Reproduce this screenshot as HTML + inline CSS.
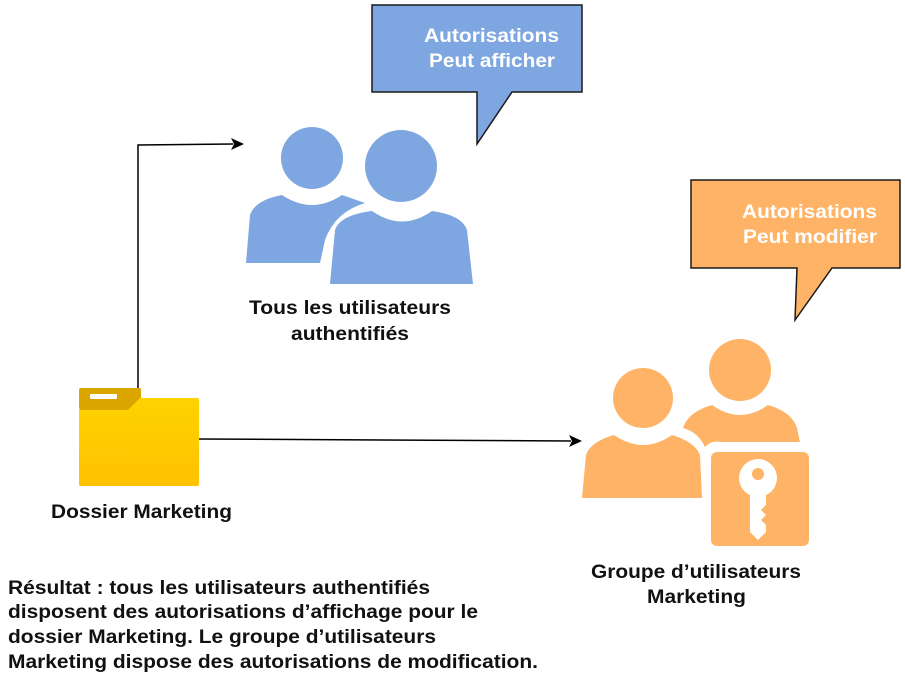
<!DOCTYPE html>
<html><head><style>
body{margin:0;background:#fff;}
svg text{font-family:"Liberation Sans",Arial,sans-serif;font-weight:bold;}
</style></head><body>
<svg width="905" height="683" viewBox="0 0 905 683" xmlns="http://www.w3.org/2000/svg">
<defs>
<linearGradient id="fg" x1="0" y1="0" x2="0" y2="1"><stop offset="0" stop-color="#FFD200"/><stop offset="1" stop-color="#FFC200"/></linearGradient>
</defs>
<polyline points="138,393 138,145 233,144" fill="none" stroke="#000" stroke-width="1.5"/>
<polygon points="244,144 231,138 234,144 231,150" fill="#000"/>
<line x1="199" y1="439" x2="571" y2="441" stroke="#000" stroke-width="1.5"/>
<polygon points="582,441 569,435 572,441 569,447" fill="#000"/>
<path d="M372,5 H582 V92 H512 L477,144 L477,92 H372 Z" fill="#7EA6E0" stroke="#1a1a1a" stroke-width="1.5"/>
<text x="424" y="42" font-size="19" fill="#fff" textLength="135" lengthAdjust="spacingAndGlyphs">Autorisations</text>
<text x="429" y="67" font-size="19" fill="#fff" textLength="126" lengthAdjust="spacingAndGlyphs">Peut afficher</text>
<path d="M691,180 H900 V268 H832 L795,320 L797,268 H691 Z" fill="#FFB366" stroke="#1a1a1a" stroke-width="1.5"/>
<text x="742" y="218" font-size="19" fill="#fff" textLength="135" lengthAdjust="spacingAndGlyphs">Autorisations</text>
<text x="743" y="243" font-size="19" fill="#fff" textLength="134" lengthAdjust="spacingAndGlyphs">Peut modifier</text>
<g fill="#7EA6E0">
<circle cx="312" cy="158" r="31"/>
<path d="M246,263 L250,215 Q255,200 282,195 Q312,215 342,195 L365,203 Q335,212 325,240 L320,263 Z"/>
<circle cx="401" cy="166" r="36"/>
<path d="M330,284 L335,230 Q340,215 372,211 Q402,232 432,211 Q462,215 467,230 L473,284 Z"/>
</g>
<g fill="#FFB366">
<circle cx="740" cy="370" r="31"/>
<path d="M683,428 Q688,412 712,405 Q740,425 768,405 Q792,412 797,428 L800,442 L720,442 Q712,440 705,447 Q698,432 683,428 Z"/>
<circle cx="643" cy="398" r="30"/>
<path d="M582,498 L586,455 Q590,442 614,435 Q643,455 672,435 Q695,442 700,455 L702,498 Z"/>
<rect x="711" y="452" width="98" height="94" rx="6"/>
</g>
<g fill="#fff">
<circle cx="758" cy="478" r="19"/>
<polygon points="750,490 766,490 766,505 761,510 766,515 761,520 766,525 766,532 758,540 750,532"/>
</g>
<circle cx="758" cy="474" r="6" fill="#FFB366"/>
<rect x="79" y="388" width="62" height="22" rx="2" fill="#DBA500"/>
<rect x="90" y="394" width="27" height="5" rx="1" fill="#fff"/>
<path d="M79,410 H128 L140,398 H197 Q199,398 199,400 V484 Q199,486 197,486 H81 Q79,486 79,484 Z" fill="url(#fg)"/>
<g font-size="19" fill="#111">
<text x="249" y="314" textLength="202" lengthAdjust="spacingAndGlyphs">Tous les utilisateurs</text>
<text x="291" y="340" textLength="118" lengthAdjust="spacingAndGlyphs">authentifiés</text>
<text x="51" y="518" textLength="181" lengthAdjust="spacingAndGlyphs">Dossier Marketing</text>
<text x="591" y="578" textLength="210" lengthAdjust="spacingAndGlyphs">Groupe d’utilisateurs</text>
<text x="647" y="603" textLength="99" lengthAdjust="spacingAndGlyphs">Marketing</text>
<text x="8" y="594" textLength="422" lengthAdjust="spacingAndGlyphs">Résultat : tous les utilisateurs authentifiés</text>
<text x="8" y="618" textLength="470" lengthAdjust="spacingAndGlyphs">disposent des autorisations d’affichage pour le</text>
<text x="8" y="643" textLength="428" lengthAdjust="spacingAndGlyphs">dossier Marketing. Le groupe d’utilisateurs</text>
<text x="8" y="668" textLength="530" lengthAdjust="spacingAndGlyphs">Marketing dispose des autorisations de modification.</text>
</g>
</svg>
</body></html>
